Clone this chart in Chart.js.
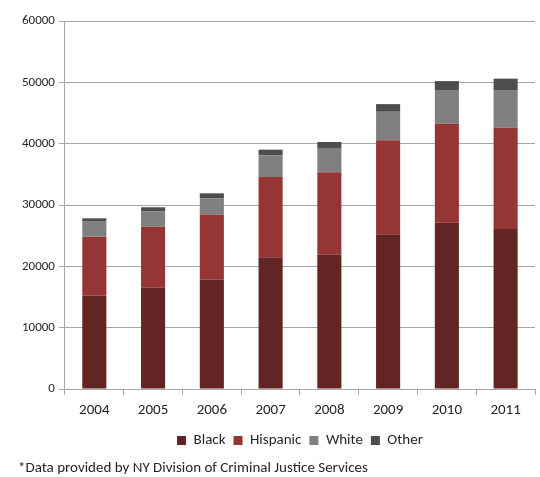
<!DOCTYPE html>
<html>
<head>
<meta charset="utf-8">
<script src="https://cdn.jsdelivr.net/npm/chart.js@4"></script>
<style>
    body { margin: 0; background: #fff; }
</style>
</head>
<body>
<canvas id="myChart" width="540" height="477"></canvas>
<script>
const years = ["2004", "2005", "2006", "2007", "2008", "2009", "2010", "2011"];
const black = [15250, 16500, 17850, 21500, 21900, 25250, 27100, 26100];
const hispanic = [9550, 9950, 10600, 13050, 13450, 15300, 16150, 16500];
const white = [2480, 2480, 2600, 3550, 3950, 4650, 5500, 6150];
const other = [550, 700, 850, 920, 970, 1250, 1450, 1850];

const fontFamily = "Carlito, Lato, 'Open Sans', sans-serif";
const gridColor = "#a6a6a6";

Chart.defaults.font.family = fontFamily;
Chart.defaults.font.size = 15;
Chart.defaults.color = "#262626";

function makeSet(label, data, color) {
    return {
        label: label,
        data: data,
        backgroundColor: color,
        borderColor: color,
        borderWidth: 0,
        barPercentage: 0.41,
        categoryPercentage: 1
    };
}

var ctx = document.getElementById('myChart').getContext("2d");
new Chart(ctx, {
    type: 'bar',
    data: {
        labels: years,
        datasets: [
            makeSet("Black", black, "#632523"),
            makeSet("Hispanic", hispanic, "#963634"),
            makeSet("White", white, "#808080"),
            makeSet("Other", other, "#4d4d4d")
        ]
    },
    options: {
        responsive: false,
        animation: false,
        layout: {
            padding: { left: 18, right: 5, top: 21, bottom: 0 }
        },
        scales: {
            x: {
                stacked: true,
                grid: { drawOnChartArea: false, offset: true, tickLength: 6, color: gridColor },
                border: { color: gridColor },
                ticks: { padding: 6 }
            },
            y: {
                stacked: true,
                min: 0,
                max: 60000,
                ticks: {
                    stepSize: 10000,
                    padding: 4,
                    font: { size: 13 },
                    callback: function (v) { return String(v); }
                },
                grid: { color: gridColor, tickLength: 6 },
                border: { color: gridColor }
            }
        },
        plugins: {
            legend: {
                position: 'bottom',
                fullSize: false,
                labels: { boxWidth: 9, boxHeight: 9, padding: 8, font: { size: 15 } }
            },
            title: {
                display: true,
                position: 'bottom',
                align: 'start',
                text: '*Data provided by NY Division of Criminal Justice Services',
                font: { size: 15, weight: 'normal' },
                color: "#262626",
                padding: { top: 1, bottom: 0 }
            },
            tooltip: { enabled: false }
        }
    }
});
</script>
</body>
</html>
